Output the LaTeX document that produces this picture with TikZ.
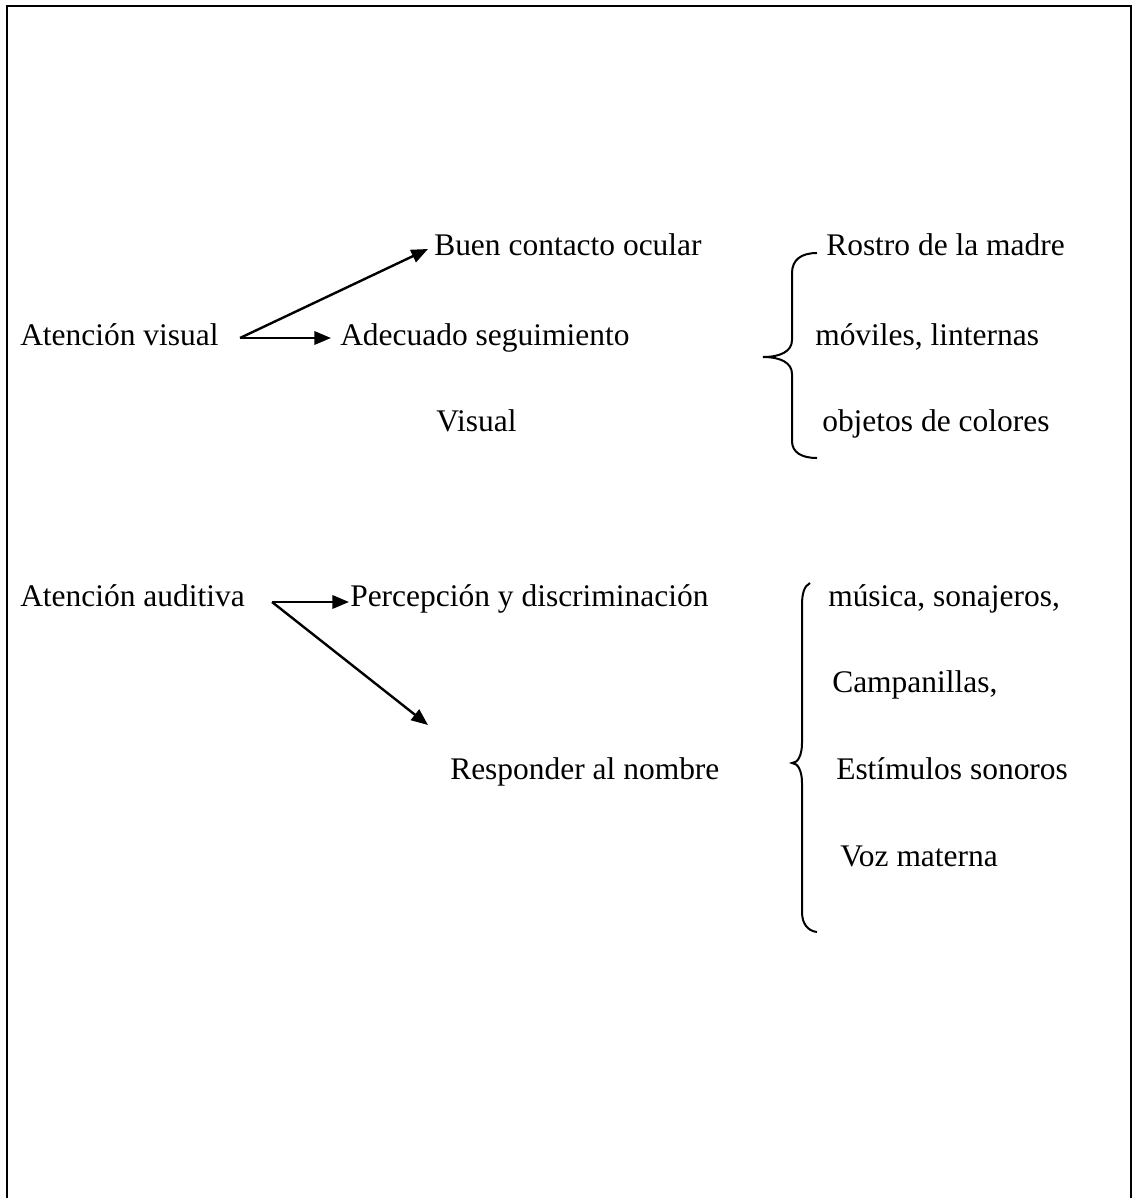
\documentclass[tikz,border=0pt]{standalone}
\usepackage{fontspec}
\setmainfont{Liberation Serif}
\usetikzlibrary{arrows.meta}
\begin{document}
\begin{tikzpicture}[x=0.75pt,y=-0.75pt,
  lbl/.style={anchor=base west,inner sep=0pt,font=\fontsize{23.6}{28}\selectfont},
  arr/.style={line width=1.8pt,-{Triangle[length=12.5pt,width=10pt]}},
  brace/.style={line width=1.5pt},
  frame/.style={line width=2pt}]
\useasboundingbox (0,0) rectangle (1133,1198);
\draw[frame] (7,1198) -- (7,6) -- (1131,6) -- (1131,1198);
% labels
\node[lbl] (atv) at (20,345) {Atención visual};
\node[lbl] (buen) at (434,256) {Buen contacto ocular};
\node[lbl] (adec) at (340,345) {Adecuado seguimiento};
\node[lbl] (visual) at (436,431) {Visual};
\node[lbl] (rostro) at (826,256) {Rostro de la madre};
\node[lbl] (moviles) at (815,345) {móviles, linternas};
\node[lbl] (objetos) at (822,431) {objetos de colores};
\node[lbl] (ata) at (20,606) {Atención auditiva};
\node[lbl] (perc) at (350,606) {Percepción y discriminación};
\node[lbl] (resp) at (450,779) {Responder al nombre};
\node[lbl] (musica) at (828,606) {música, sonajeros,};
\node[lbl] (camp) at (832,692) {Campanillas,};
\node[lbl] (estim) at (836,779) {Estímulos sonoros};
\node[lbl] (voz) at (840,866) {Voz materna};
% arrow coordinates
\coordinate (s1) at (240,338);
\coordinate (t1a) at (428,249);
\coordinate (t1b) at (331,338);
\coordinate (s2) at (272,602);
\coordinate (t2a) at (349,602);
\coordinate (t2b) at (428,725);
\draw[arr] (s1) -- (t1a);
\draw[arr] (s1) -- (t1b);
\draw[arr] (s2) -- (t2a);
\draw[arr] (s2) -- (t2b);
% braces
\draw[brace] (817,253) .. controls (801,253) and (792,260) .. (792,273) -- (792,340)
  .. controls (792,351) and (781,357) .. (763,357)
  .. controls (781,357) and (792,363) .. (792,374) -- (792,441)
  .. controls (792,452) and (801,458) .. (817,458);
\draw[brace] (810,583) .. controls (804,586) and (802,594) .. (802,605) -- (802,743)
  .. controls (802,755) and (798,763) .. (792,763)
  .. controls (798,763) and (802,771) .. (802,783) -- (802,912)
  .. controls (802,924) and (808,931) .. (817,932);
\end{tikzpicture}
\end{document}
